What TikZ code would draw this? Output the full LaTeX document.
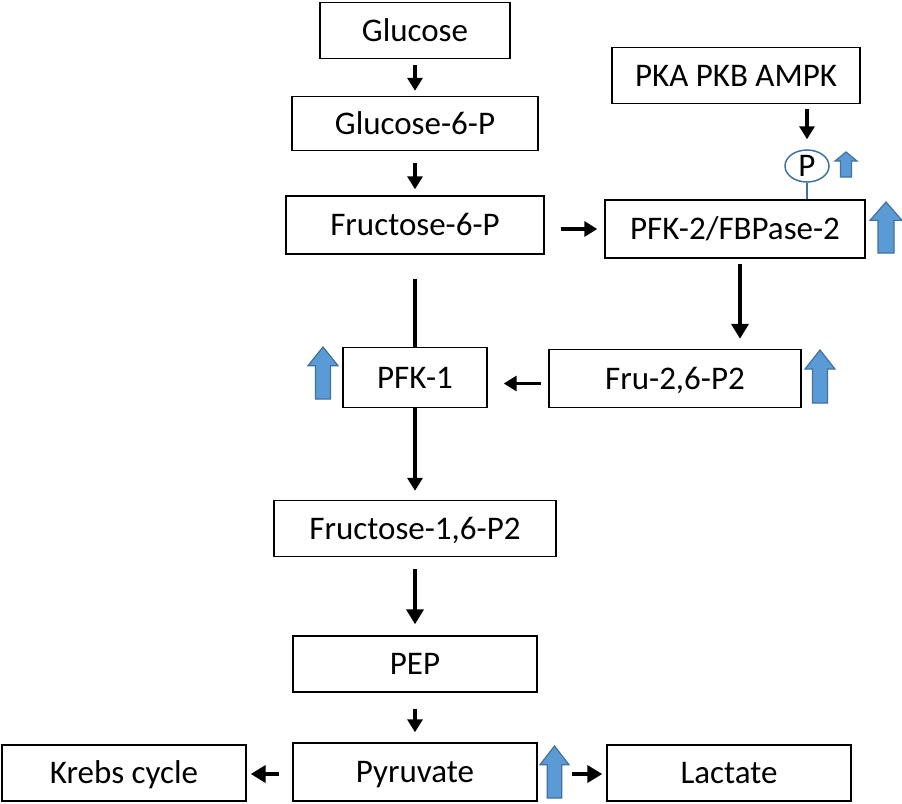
\documentclass[tikz,border=0pt]{standalone}
\usepackage{fontspec}
\setmainfont{Carlito}
\usetikzlibrary{arrows.meta,shapes.geometric}
\definecolor{bfill}{HTML}{5B9BD5}
\definecolor{bdraw}{HTML}{41719C}
\tikzset{
  box/.style={draw, line width=1.4pt, inner sep=0pt, text height=21pt, text depth=0pt, font=\fontsize{33}{38}\selectfont},
  thin/.style={line width=3.3pt, -{Triangle[width=15pt,length=13pt]}},
  thick/.style={line width=4.3pt, -{Triangle[width=17pt,length=15pt]}},
  plain/.style={line width=3.3pt},
  blockarrow/.style={fill=bfill, draw=bdraw, line width=1.2pt, line join=miter}
}
\newcommand\upblock[4]{% x-left, y-top, width, height
  \path[blockarrow] ({#1+#3/2},{#2}) -- ({#1+#3},{#2+0.36*#4}) -- ({#1+0.75*#3},{#2+0.36*#4})
   -- ({#1+0.75*#3},{#2+#4}) -- ({#1+0.25*#3},{#2+#4}) -- ({#1+0.25*#3},{#2+0.36*#4})
   -- ({#1},{#2+0.36*#4}) -- cycle;}
\begin{document}
\begin{tikzpicture}[x=1pt,y=-1pt]
\useasboundingbox (0,0) rectangle (902,803);
\node[box, minimum width=190pt, minimum height=56pt] (glc) at (415,30.5) {Glucose};
\node[box, minimum width=246pt, minimum height=54pt] (g6p) at (415,123.5) {Glucose-6-P};
\node[box, minimum width=258pt, minimum height=58pt] (f6p) at (415,225) {Fructose-6-P};
\node[box, minimum width=248pt, minimum height=56pt] (pka) at (736,75.5) {PKA PKB AMPK};
\node[draw=bdraw, line width=1.5pt, ellipse, inner sep=0pt, minimum width=44pt, minimum height=32pt, text height=21pt, text depth=0pt, font=\fontsize{33}{38}\selectfont] (p) at (807,166) {P};
\node[box, minimum width=260pt, minimum height=58pt] (pfk2) at (735,229) {PFK-2/FBPase-2};
\node[box, minimum width=252pt, minimum height=58pt] (fru) at (675,378.5) {Fru-2,6-P2};
\node[box, minimum width=144pt, minimum height=60pt] (pfk1) at (415,377.5) {PFK-1};
\node[box, minimum width=282pt, minimum height=56pt] (f16) at (415,528.5) {Fructose-1,6-P2};
\node[box, minimum width=244pt, minimum height=56pt] (pep) at (415,664) {PEP};
\node[box, minimum width=244pt, minimum height=58pt] (pyr) at (415,772) {Pyruvate};
\node[box, minimum width=244pt, minimum height=56pt] (krebs) at (124,773) {Krebs cycle};
\node[box, minimum width=244pt, minimum height=56pt] (lac) at (729,773) {Lactate};

\draw[thin, shorten <=6pt, shorten >=5pt] (glc) -- (g6p);
\draw[thin, shorten <=12pt, shorten >=6pt] (g6p) -- (f6p);
\draw[thin, shorten <=16pt, shorten >=7pt] (f6p.east |- pfk2.west) -- (pfk2.west);
\draw[thin, shorten <=5pt, shorten >=10pt] (p.north |- pka.south) -- (p.north);
\draw[bdraw, line width=1.5pt] (p.south) -- (p.south |- pfk2.north);
\draw[thick, shorten <=5pt, shorten >=10pt] ([xshift=5pt]pfk2.south) -- ([xshift=5pt]pfk2.south |- fru.north);
\draw[thin, shorten <=7pt, shorten >=16pt] ([yshift=-5pt]fru.west) -- ([yshift=-5pt]fru.west -| pfk1.east);
\draw[plain, shorten <=24pt] (f6p) -- (pfk1);
\draw[thin, shorten >=9pt] (pfk1) -- (f16);
\draw[thick, shorten <=12pt, shorten >=11pt] (f16) -- (pep);
\draw[thin, shorten <=16pt, shorten >=10pt] (pep) -- (pyr);
\draw[thick, shorten <=13pt, shorten >=4pt] ([yshift=-2pt]pyr.west) -- ([yshift=-2pt]pyr.west -| krebs.east);
\draw[thick, shorten <=34pt, shorten >=4pt] ([yshift=-2pt]pyr.east) -- ([yshift=-2pt]pyr.east -| lac.west);

\upblock{835}{152}{22}{25}
\upblock{870}{202}{32}{51}
\upblock{308}{347}{30}{52}
\upblock{805}{350}{30}{53}
\upblock{540}{746}{29}{52}
\end{tikzpicture}
\end{document}
